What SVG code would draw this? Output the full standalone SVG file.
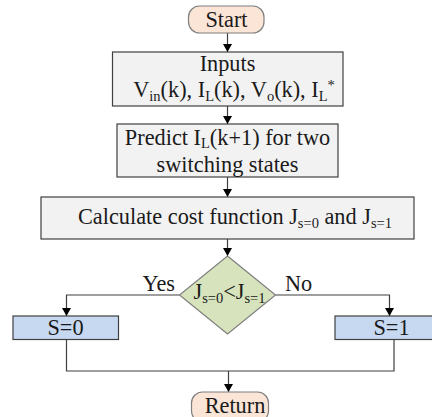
<svg xmlns="http://www.w3.org/2000/svg" width="432" height="417" viewBox="0 0 432 417">
  <style>
    text { font-family: "Liberation Serif", "Times New Roman", serif; font-size: 22.3px; fill: #1a1a1a; }
    .mid { text-anchor: middle; }
    .sub { font-size: 14.5px; }
    .term { fill: #fbe5d6; stroke: #7f7f7f; stroke-width: 1.2; }
    .proc { fill: #f2f2f2; stroke: #404040; stroke-width: 1.2; }
    .dec { fill: #d6e3bc; stroke: #7f7f7f; stroke-width: 1.2; }
    .out { fill: #c6d9f1; stroke: #404040; stroke-width: 1.2; }
    .link { fill: none; stroke: #404040; stroke-width: 1.2; }
    .arrow { marker-end: url(#head); }
  </style>
  <defs>
    <marker id="head" markerUnits="userSpaceOnUse" markerWidth="8" markerHeight="9" refX="8" refY="4.5" orient="auto" viewBox="0 0 8 9">
      <path d="M0,0 L8,4.5 L0,9 Z" fill="#000"/>
    </marker>
  </defs>

  <!-- connectors -->
  <g id="connectors">
    <path class="link arrow" d="M227.5,33 V52"/>
    <path class="link arrow" d="M227.5,106 V124"/>
    <path class="link arrow" d="M227.5,177 V197"/>
    <path class="link arrow" d="M227.5,239 V256"/>
    <path class="link arrow" d="M179.5,295 H66.5 V316"/>
    <path class="link arrow" d="M275.5,295 H389.5 V316"/>
    <path class="link" d="M66.5,339.5 V371 H394 V339.5"/>
    <path class="link arrow" d="M228.5,371 V392"/>
  </g>

  <!-- start terminal -->
  <g id="start">
    <rect class="term" x="188.5" y="6" width="75.5" height="27" rx="11"/>
    <text class="mid" x="226.5" y="26.5">Start</text>
  </g>

  <!-- measured inputs -->
  <g id="inputs">
    <rect class="proc" x="112.5" y="52" width="230.5" height="54"/>
    <text class="mid" x="227.5" y="71">Inputs</text>
    <text class="mid" x="234" y="96.5">V<tspan class="sub" dy="4">in</tspan><tspan dy="-4">(k), I</tspan><tspan class="sub" dy="4">L</tspan><tspan dy="-4">(k), V</tspan><tspan class="sub" dy="4">o</tspan><tspan dy="-4">(k), I</tspan><tspan class="sub" dy="4">L</tspan><tspan class="sub" dy="-11">*</tspan></text>
  </g>

  <!-- prediction step -->
  <g id="predict">
    <rect class="proc" x="117" y="124" width="221" height="53"/>
    <text class="mid" x="227.5" y="145">Predict I<tspan class="sub" dy="3">L</tspan><tspan dy="-3">(k+1) for two</tspan></text>
    <text class="mid" x="227.5" y="171.5">switching states</text>
  </g>

  <!-- cost evaluation -->
  <g id="cost">
    <rect class="proc" x="41" y="197" width="373" height="42"/>
    <text class="mid" x="235" y="224">Calculate cost function J<tspan class="sub" dy="4">s=0</tspan><tspan dy="-4"> and J</tspan><tspan class="sub" dy="4">s=1</tspan></text>
  </g>

  <!-- comparison -->
  <g id="decision">
    <polygon class="dec" points="227.5,256 275.5,295 227.5,334 179.5,295"/>
    <text class="mid" x="229.5" y="299">J<tspan class="sub" dy="4">s=0</tspan><tspan dy="-4">&lt;J</tspan><tspan class="sub" dy="4">s=1</tspan></text>
    <text x="175" y="291" text-anchor="end">Yes</text>
    <text x="285" y="291">No</text>
  </g>

  <!-- switch off -->
  <g id="s0">
    <rect class="out" x="13" y="316" width="105.5" height="23.5"/>
    <text class="mid" x="65.5" y="335">S=0</text>
  </g>

  <!-- switch on -->
  <g id="s1">
    <rect class="out" x="335" y="316" width="100" height="23.5"/>
    <text class="mid" x="391.5" y="335">S=1</text>
  </g>

  <!-- return terminal -->
  <g id="return">
    <rect class="term" x="191.5" y="392" width="77" height="30" rx="11"/>
    <text class="mid" x="235" y="413">Return</text>
  </g>
</svg>
